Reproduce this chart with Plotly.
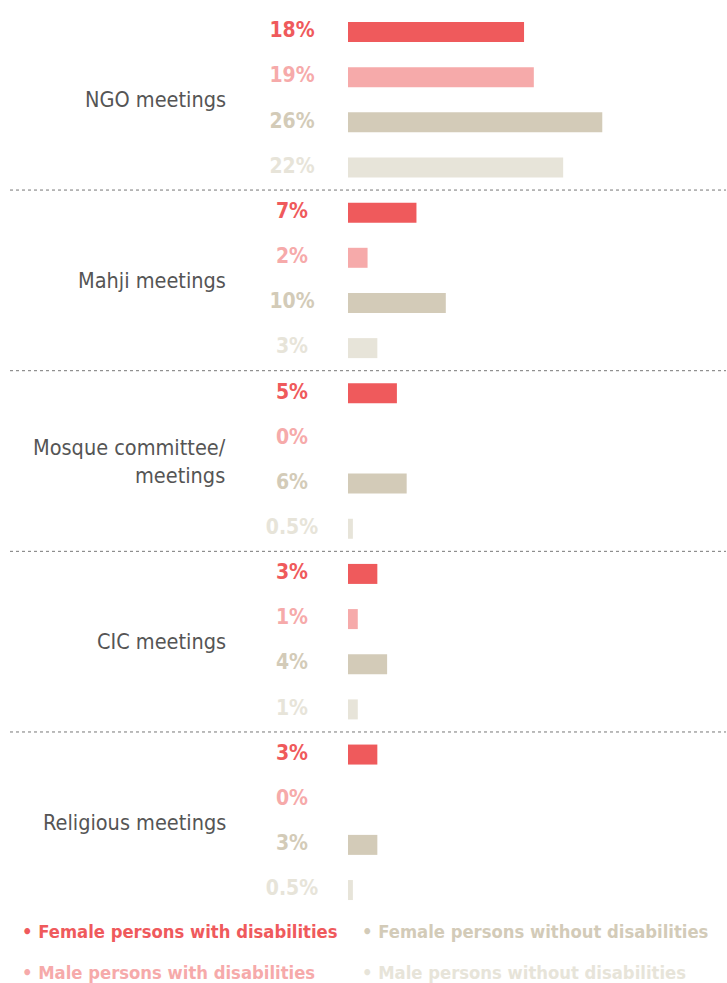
import plotly.graph_objects as go

categories = ["NGO meetings", "Mahji meetings", "Mosque committee/<br>meetings", "CIC meetings", "Religious meetings"]
series_names = ["Female persons with disabilities", "Male persons with disabilities",
                "Female persons without disabilities", "Male persons without disabilities"]
female_with = [18, 7, 5, 3, 3]
male_with = [19, 2, 0, 1, 0]
female_without = [26, 10, 6, 4, 3]
male_without = [22, 3, 0.5, 1, 0.5]
colors = ["#EF5A5C", "#F6AAAA", "#D3CBB8", "#E7E4D9"]

series_values = [female_with, male_with, female_without, male_without]

FONT = "Liberation Sans Narrow, Arial Narrow, DejaVu Sans Condensed, sans-serif"
W, H = 727, 983
px_per_unit = 9.78
x0_px = 348
row0_px = 32
row_px = 45.16

def xd(px):
    return (px - x0_px) / px_per_unit

def yd(px):
    return (px - row0_px) / row_px

def fmt(v):
    return (f"{v:g}") + "%"

fig = go.Figure()
ncat = len(categories)
for s, (name, vals, col) in enumerate(zip(series_names, series_values, colors)):
    ys = [c * 4 + s for c in range(ncat)]
    fig.add_trace(go.Bar(
        x=vals, y=ys, orientation="h", marker=dict(color=col, line=dict(width=0)),
        width=20 / row_px, name=name, showlegend=False, hoverinfo="x+name",
    ))
    fig.add_trace(go.Scatter(
        x=[xd(292)] * ncat, y=ys, mode="text", text=[fmt(v) for v in vals],
        textfont=dict(family=FONT, size=21, color=col, weight="bold"), textposition="middle center",
        showlegend=False, hoverinfo="skip",
    ))

annotations = []
for c, cat in enumerate(categories):
    annotations.append(dict(
        x=xd(228), y=c * 4 + 1.5, xref="x", yref="y", text=cat, showarrow=False,
        xanchor="right", yanchor="middle", align="right",
        font=dict(family=FONT, size=21.5, color="#555555"),
    ))

shapes = []
for c in range(1, ncat):
    shapes.append(dict(
        type="line", xref="x", yref="y", x0=xd(10), x1=xd(726), y0=c * 4 - 0.5, y1=c * 4 - 0.5,
        line=dict(color="#777777", width=1, dash="dot"),
    ))

legend_pos = [(20, 931), (20, 972), (360, 931), (360, 972)]
for name, col, (lx, ly) in zip(series_names, colors, legend_pos):
    annotations.append(dict(
        x=xd(lx), y=yd(ly), xref="x", yref="y", text="<b>• " + name + "</b>", showarrow=False,
        xanchor="left", yanchor="middle", font=dict(family=FONT, size=18.3, color=col),
    ))

fig.update_layout(
    width=W, height=H,
    margin=dict(l=0, r=0, t=0, b=0),
    paper_bgcolor="white", plot_bgcolor="white",
    barmode="overlay",
    xaxis=dict(range=[xd(0), xd(W)], visible=False, fixedrange=True),
    yaxis=dict(range=[yd(H), yd(0)], visible=False, fixedrange=True),
    annotations=annotations, shapes=shapes,
    showlegend=False,
)

fig.write_html("out.html", config={"displayModeBar": False},
               post_script="document.body.style.margin='0';document.body.style.overflow='hidden';")
